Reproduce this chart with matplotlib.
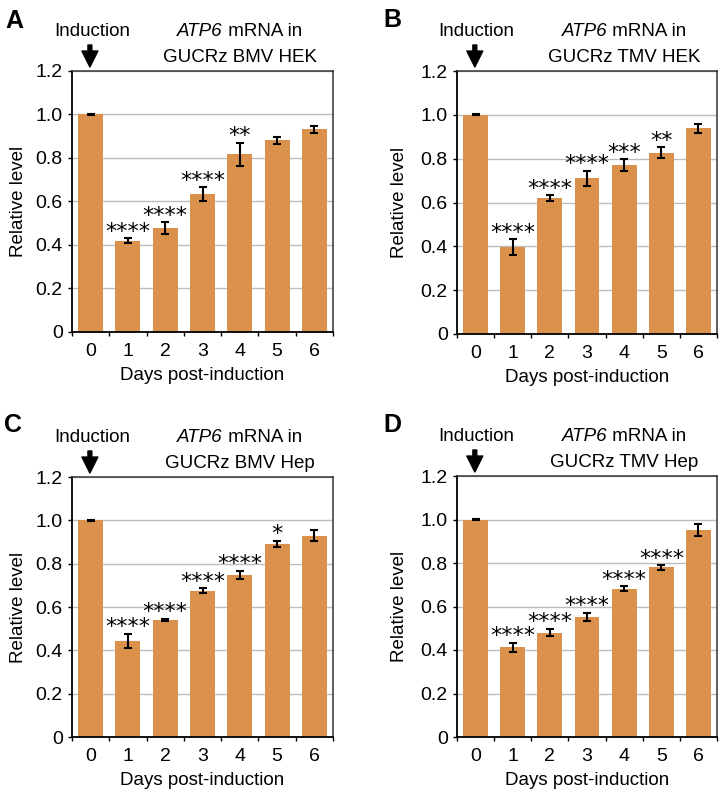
import matplotlib
matplotlib.use("Agg")
import matplotlib.pyplot as plt
import matplotlib.transforms as mtransforms
import numpy as np

plt.rcParams['font.family'] = ['Liberation Sans', 'DejaVu Sans']

days = [0, 1, 2, 3, 4, 5, 6]
day_labels = ['0', '1', '2', '3', '4', '5', '6']
yticks = [0, 0.2, 0.4, 0.6, 0.8, 1.0, 1.2]
ytick_labels = ['0', '0.2', '0.4', '0.6', '0.8', '1.0', '1.2']

a_vals = [1.0, 0.420, 0.478, 0.633, 0.817, 0.881, 0.932]
a_err = [0.003, 0.012, 0.026, 0.033, 0.053, 0.015, 0.015]
a_sig = ['', '****', '****', '****', '**', '', '']

b_vals = [1.0, 0.396, 0.620, 0.710, 0.770, 0.827, 0.938]
b_err = [0.003, 0.037, 0.013, 0.035, 0.028, 0.024, 0.022]
b_sig = ['', '****', '****', '****', '***', '**', '']

c_vals = [1.0, 0.444, 0.541, 0.675, 0.748, 0.891, 0.929]
c_err = [0.003, 0.032, 0.005, 0.012, 0.020, 0.014, 0.025]
c_sig = ['', '****', '****', '****', '****', '*', '']

d_vals = [1.0, 0.412, 0.480, 0.553, 0.682, 0.780, 0.952]
d_err = [0.003, 0.021, 0.017, 0.018, 0.012, 0.010, 0.026]
d_sig = ['', '****', '****', '****', '****', '****', '']

panel_letters = ['A', 'B', 'C', 'D']
gene = 'ATP6'
cell_lines = ['GUCRz BMV HEK', 'GUCRz TMV HEK', 'GUCRz BMV Hep', 'GUCRz TMV Hep']

W, H = 720, 792
fig = plt.figure(figsize=(W / 100, H / 100), dpi=100)
renderer = fig.canvas.get_renderer()

# axes rectangles in pixels: left, top, right, bottom
rects_px = [(72, 71, 333, 332), (457, 71, 717, 334), (72, 477, 333, 737), (457, 476, 717, 737)]
letter_px = [(14, 28), (392, 27), (13, 432), (392, 432)]
ylab_off = [49, 53, 49, 53]

BAR = '#DA914B'
TICK_FS = 14
LAB_FS = 13.5
TXT_FS = 13.5
STAR_FS = 16
panels = [(a_vals, a_err, a_sig), (b_vals, b_err, b_sig), (c_vals, c_err, c_sig), (d_vals, d_err, d_sig)]

for k, ((vals, errs, sigs), (l, t, r, b)) in enumerate(zip(panels, rects_px)):
    ax = fig.add_axes([l / W, 1 - b / H, (r - l) / W, (b - t) / H])
    hpx = b - t
    ax.bar(days, vals, width=0.67, color=BAR, zorder=2)
    ax.errorbar(days, vals, yerr=errs, fmt='none', ecolor='black', elinewidth=1.5,
                capsize=3, capthick=1.5, zorder=3)
    ax.set_xlim(-0.5, 6.5)
    ax.set_ylim(0, 1.2)
    ax.set_yticks(yticks)
    ax.set_yticklabels(ytick_labels)
    ax.set_xticks(days)
    ax.set_xticklabels(day_labels)
    ax.set_xticks(np.arange(-0.5, 7.0, 1.0), minor=True)
    ax.tick_params(axis='x', which='major', length=0, pad=8.0, labelsize=TICK_FS)
    ax.tick_params(axis='x', which='minor', length=3, width=1, direction='out')
    ax.tick_params(axis='y', which='major', length=2.6, width=1, pad=4.0,
                   labelsize=TICK_FS, direction='out')
    ax.yaxis.grid(True, color='#bdbdbd', linewidth=1.0, zorder=0)
    ax.set_axisbelow(True)
    for s in ['left', 'bottom']:
        ax.spines[s].set_color('black')
        ax.spines[s].set_linewidth(1.3)
    for s in ['top', 'right']:
        ax.spines[s].set_color('#333333')
        ax.spines[s].set_linewidth(1.1)

    ax.set_ylabel('Relative level', fontsize=LAB_FS, va='baseline')
    ax.yaxis.set_label_coords(-ylab_off[k] / (r - l), 0.5)
    ax.set_xlabel('Days post-induction', fontsize=LAB_FS, va='baseline')
    ax.xaxis.set_label_coords(0.5, -48 / hpx)

    # significance stars
    for x, v, e, s in zip(days, vals, errs, sigs):
        if s:
            ax.annotate(s, xy=(x, v + e), xytext=(0, 0.5), textcoords='offset pixels',
                        ha='center', va='baseline', fontsize=STAR_FS,
                        family='DejaVu Sans', zorder=4)

    blend = mtransforms.blended_transform_factory(ax.transData, ax.transAxes)
    # title line 1: italic gene + normal text, centred together
    tr1 = mtransforms.offset_copy(blend, fig=fig, x=0, y=35, units='dots')
    t1 = ax.text(4.0, 1, gene, style='italic', ha='right', va='baseline',
                 fontsize=TXT_FS, transform=tr1, clip_on=False)
    t2 = ax.text(4.0, 1, ' mRNA in', ha='left', va='baseline',
                 fontsize=TXT_FS, transform=tr1, clip_on=False)
    w1 = t1.get_window_extent(renderer).width
    w2 = t2.get_window_extent(renderer).width
    tr1b = mtransforms.offset_copy(blend, fig=fig, x=(w1 - w2) / 2, y=35, units='dots')
    t1.set_transform(tr1b)
    t2.set_transform(tr1b)
    tr2 = mtransforms.offset_copy(blend, fig=fig, x=0, y=9, units='dots')
    ax.text(4.0, 1, cell_lines[k], ha='center', va='baseline', fontsize=TXT_FS,
            transform=tr2, clip_on=False)
    ax.text(0.03, 1, 'Induction', ha='center', va='baseline', fontsize=TXT_FS,
            transform=tr1, clip_on=False)
    tip = mtransforms.offset_copy(blend, fig=fig, x=0, y=4, units='dots')
    tail = mtransforms.offset_copy(blend, fig=fig, x=0, y=26, units='dots')
    ax.annotate('', xy=(-0.02, 1), xycoords=tip, xytext=(-0.02, 1), textcoords=tail,
                arrowprops=dict(facecolor='black', edgecolor='black', width=2.8,
                                headwidth=11.5, headlength=11.5, shrink=0),
                annotation_clip=False)

    lx, ly = letter_px[k]
    fig.text(lx / W, 1 - ly / H, panel_letters[k], ha='center', va='baseline',
             fontsize=18, fontweight='bold')

fig.savefig('out.png', dpi=100)
